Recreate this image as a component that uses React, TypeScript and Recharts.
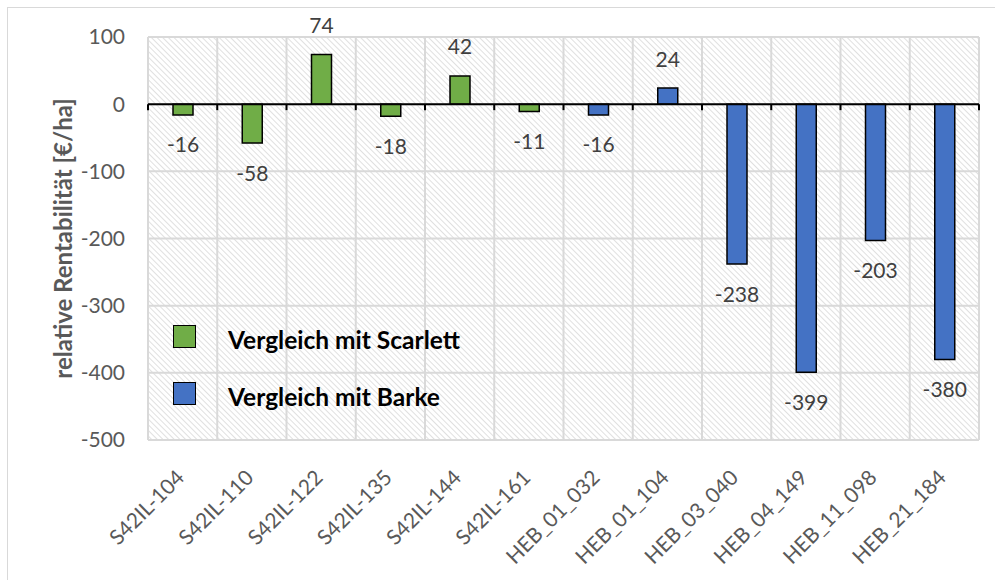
import React from 'react';
import { BarChart, Bar, XAxis, YAxis, CartesianGrid, ReferenceLine, LabelList, Legend, Label } from 'recharts';

const categories = ['S42IL-104', 'S42IL-110', 'S42IL-122', 'S42IL-135', 'S42IL-144', 'S42IL-161', 'HEB_01_032', 'HEB_01_104', 'HEB_03_040', 'HEB_04_149', 'HEB_11_098', 'HEB_21_184'];
const scarlettValues = [-16, -58, 74, -18, 42, -11, null, null, null, null, null, null];
const barkeValues = [null, null, null, null, null, null, -16, 24, -238, -399, -203, -380];
const yTicks = [100, 0, -100, -200, -300, -400, -500];
const seriesNames = ['Vergleich mit Scarlett', 'Vergleich mit Barke'];
const seriesColors = ['#70AD47', '#4472C4'];
const yAxisTitle = 'relative Rentabilität [€/ha]';

const data = categories.map((name, i) => ({ name, scarlett: scarlettValues[i], barke: barkeValues[i] }));

const FONT = 'Lato, "Open Sans", sans-serif';

const renderValueLabel = (props: any) => {
  const { value } = props;
  if (value === null || value === undefined) return null;
  const vb = props.viewBox || {};
  const x = props.x ?? vb.x;
  const y = props.y ?? vb.y;
  const width = props.width ?? vb.width;
  const height = props.height ?? vb.height;
  const top = Math.min(y, y + height);
  const bottom = Math.max(y, y + height);
  const cy = value < 0 ? bottom + 29 : top - 30;
  return (
    <text x={x + width / 2} y={cy} textAnchor="middle" dominantBaseline="central" fill="#404040" fontSize={21} fontFamily={FONT}>
      {value}
    </text>
  );
};

const XTick = (props: any) => {
  const { x, y, payload } = props;
  const ax = x + 3;
  const ay = y + 39;
  return (
    <text x={ax} y={ay} transform={`rotate(-45, ${ax}, ${ay})`} textAnchor="end" fill="#595959" fontSize={21} fontFamily={FONT}>
      {payload.value}
    </text>
  );
};

const ZeroLine = (props: any) => {
  const { x1, x2, y1 } = props;
  const n = categories.length;
  const step = (x2 - x1) / n;
  const ticks = Array.from({ length: n + 1 }, (_, i) => x1 + i * step);
  return (
    <g>
      <line x1={x1} x2={x2} y1={y1} y2={y1} stroke="#000" strokeWidth={2} />
      {ticks.map((tx, i) => (
        <line key={i} x1={tx} x2={tx} y1={y1} y2={y1 + 6} stroke="#000" strokeWidth={2} />
      ))}
    </g>
  );
};

const renderYTitle = (props: any) => {
  const vb = props.viewBox;
  const cx = vb.x + 54;
  const cy = vb.y + vb.height / 2;
  return (
    <text x={cx} y={cy} transform={`rotate(-90, ${cx}, ${cy})`} textAnchor="middle" dominantBaseline="central" fill="#595959" fontSize={24} fontWeight={700} fontFamily={FONT}>
      {yAxisTitle}
    </text>
  );
};

const renderLegend = (props: any) => {
  const payload = [...(props.payload || [])].sort(
    (a: any, b: any) => seriesNames.indexOf(a.value) - seriesNames.indexOf(b.value)
  );
  return (
    <div>
      {payload.map((entry: any, i: number) => (
        <div key={i} style={{ display: 'flex', alignItems: 'center', height: 57 }}>
          <span style={{ display: 'inline-block', boxSizing: 'border-box', width: 23, height: 23, background: entry.color, border: '1.5px solid #000', marginRight: 32 }} />
          <span style={{ position: 'relative', top: 3, fontWeight: 700, fontSize: 24.5, fontFamily: FONT, color: '#000', whiteSpace: 'nowrap' }}>{entry.value}</span>
        </div>
      ))}
    </div>
  );
};

const verticalGen = (args: any) => {
  const { offset } = args;
  const n = categories.length;
  return Array.from({ length: n + 1 }, (_, i) => offset.left + (i * offset.width) / n);
};

export default function App() {
  return (
    <div>
      <style>{'body{margin:0;overflow:hidden;}'}</style>
      <div style={{ position: 'absolute', left: 7, top: 7, width: 1000, height: 600, border: '1px solid #d9d9d9', boxSizing: 'border-box', background: '#fff' }}>
        <BarChart width={987} height={572} data={data} margin={{ top: 29, right: 16, bottom: 0, left: 0 }} barSize={20}>
          <defs>
            <pattern id="hatch" width="4" height="4" patternUnits="userSpaceOnUse" patternTransform="rotate(-45)">
              <rect width="4" height="4" fill="#ffffff" />
              <line x1="0" y1="0" x2="0" y2="4" stroke="#cfcfcf" strokeWidth={1.3} />
            </pattern>
          </defs>
          <CartesianGrid fill="url(#hatch)" fillOpacity={1} stroke="#d9d9d9" strokeWidth={2} verticalCoordinatesGenerator={verticalGen} />
          <XAxis dataKey="name" axisLine={false} tickLine={false} tickSize={0} tickMargin={0} height={140} interval={0} tick={<XTick />} />
          <YAxis width={140} domain={[-500, 100]} ticks={yTicks} axisLine={false} tickLine={false} tickSize={0} tickMargin={23} tick={{ fill: '#595959', fontSize: 21, fontFamily: FONT }}>
            <Label content={renderYTitle} />
          </YAxis>
          <Legend layout="vertical" align="center" verticalAlign="middle" content={renderLegend} wrapperStyle={{ left: 165, top: 300, width: 340, height: 114 }} />
          <Bar dataKey="scarlett" name={seriesNames[0]} stackId="s" fill={seriesColors[0]} stroke="#000" strokeWidth={1.5} isAnimationActive={false}>
            <LabelList dataKey="scarlett" content={renderValueLabel} />
          </Bar>
          <Bar dataKey="barke" name={seriesNames[1]} stackId="s" fill={seriesColors[1]} stroke="#000" strokeWidth={1.5} isAnimationActive={false}>
            <LabelList dataKey="barke" content={renderValueLabel} />
          </Bar>
          <ReferenceLine y={0} shape={<ZeroLine />} ifOverflow="visible" />
        </BarChart>
      </div>
    </div>
  );
}
